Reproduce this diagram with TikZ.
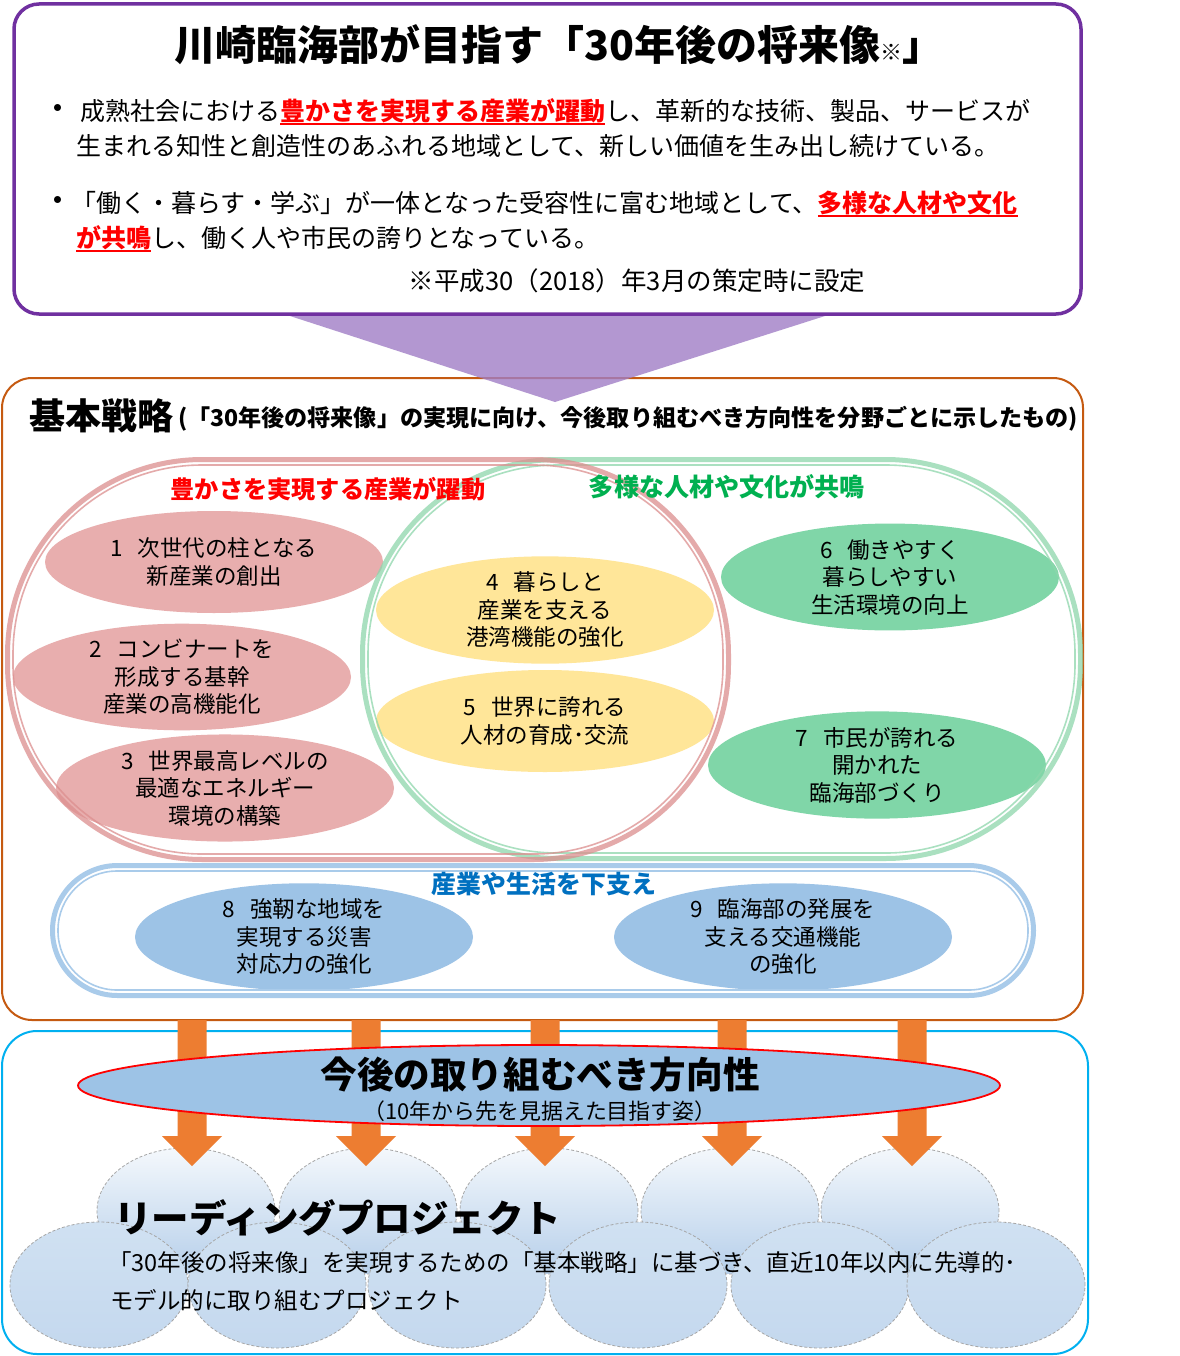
\documentclass[tikz,border=0pt]{standalone}
\usepackage{fontspec}
\setmainfont{Noto Sans CJK JP}
\usetikzlibrary{shapes.geometric}
\definecolor{purp}{HTML}{7030A0}
\definecolor{purpfill}{HTML}{A07EC6}
\definecolor{orgline}{HTML}{C55A11}
\definecolor{myred}{HTML}{FF0000}
\definecolor{ringred}{HTML}{DC8E8E}
\definecolor{ringgreen}{HTML}{8ED6AC}
\definecolor{ringblue}{HTML}{A9CBEA}
\definecolor{pinkfill}{HTML}{E8AEAE}
\definecolor{yellowfill}{HTML}{FFE699}
\definecolor{greenfill}{HTML}{80D6A8}
\definecolor{bluefill}{HTML}{9DC3E6}
\definecolor{mygreen}{HTML}{00B050}
\definecolor{myblue}{HTML}{0070C0}
\definecolor{cyanline}{HTML}{00B0F0}
\definecolor{arrowcol}{HTML}{ED7D31}
\definecolor{cloudtop}{HTML}{F4F8FC}
\definecolor{cloudbot}{HTML}{B6CFEA}
\definecolor{cloudtopb}{HTML}{D0E1F2}
\definecolor{cloudmidb}{HTML}{B3CDE9}
\definecolor{cloudbotb}{HTML}{C4D8EE}
\newcommand\ulred[1]{\setbox0\hbox{\bfseries #1}\textcolor{myred}{\rlap{\rule[-4.5pt]{\wd0}{1.8pt}}\box0}}
\newcommand\nsp{\hspace{0.65em}}
\newcommand\blockarrowdown[1]{\fill[arrowcol] ([shift={(-14.5,0)}]#1) -- ([shift={(14.5,0)}]#1) -- ([shift={(14.5,116)}]#1) -- ([shift={(30,116)}]#1) -- ([shift={(0,146)}]#1) -- ([shift={(-30,116)}]#1) -- ([shift={(-14.5,116)}]#1) -- cycle;}
\tikzset{
  txt/.style={inner sep=0pt, outer sep=0pt},
  ell/.style={ellipse, inner sep=0pt, minimum width=338pt, minimum height=102pt, align=center, font=\fontsize{22.5}{27.5}\selectfont},
  pinkell/.style={ell, fill=pinkfill},
  yellell/.style={ell, fill=yellowfill},
  greenell/.style={ell, fill=greenfill},
  blueell/.style={ell, fill=bluefill},
  cloudA/.style={ellipse, inner sep=0pt, minimum width=178pt, minimum height=126pt, draw=gray!70, line width=0.8pt, dash pattern=on 3pt off 2pt, top color=cloudtop, bottom color=cloudbot},
  cloudB/.style={ellipse, inner sep=0pt, minimum width=178pt, minimum height=126pt, draw=gray!70, line width=0.8pt, dash pattern=on 3pt off 2pt, top color=cloudtopb, middle color=cloudmidb, bottom color=cloudbotb},
  ringthick/.style={line width=5pt, opacity=0.75},
  ringthin/.style={line width=1.6pt, opacity=0.75},
}
\begin{document}
\begin{tikzpicture}[x=1pt,y=-1pt]
\useasboundingbox (0,0) rectangle (1179,1356);
\fill[white] (0,0) rectangle (1179,1356);

% boxes
\draw[orgline, line width=2pt, rounded corners=30pt] (2,378) rectangle (1083,1020);
\draw[cyanline, line width=2pt, rounded corners=35pt] (2,1031) rectangle (1088,1354);
\draw[purp, line width=3.5pt, fill=white, rounded corners=25pt] (14,4) rectangle (1081,314);
\fill[purpfill, opacity=0.8] (290,316) -- (825,316) -- (555,402) -- cycle;

% top texts
\node[txt, font=\bfseries\fontsize{41}{41}\selectfont] (title) at (559,45) {川崎臨海部が目指す「30年後の将来像{\fontsize{22}{22}\selectfont ※}」};
\node[txt, font=\bfseries\fontsize{25}{25}\selectfont] (bul1) at (58,111) {・};
\node[txt, anchor=base west, font=\fontsize{25}{25}\selectfont] (l1) at (80,120.5) {成熟社会における\ulred{豊かさを実現する産業が躍動}し、革新的な技術、製品、サービスが};
\node[txt, anchor=base west, font=\fontsize{25}{25}\selectfont] (l2) at (76,155.5) {生まれる知性と創造性のあふれる地域として、新しい価値を生み出し続けている。};
\node[txt, font=\bfseries\fontsize{25}{25}\selectfont] (bul2) at (58,203) {・};
\node[txt, anchor=base west, font=\fontsize{25}{25}\selectfont] (l3) at (71,212.5) {「働く・暮らす・学ぶ」が一体となった受容性に富む地域として、\ulred{多様な人材や文化}};
\node[txt, anchor=base west, font=\fontsize{25}{25}\selectfont] (l4) at (76,247.5) {\ulred{が共鳴}し、働く人や市民の誇りとなっている。};
\node[txt, font=\fontsize{25.5}{25.5}\selectfont] (note) at (637,281) {※平成30（2018）年3月の策定時に設定};

% strategy header
\node[txt, font=\bfseries\fontsize{36}{36}\selectfont] (kihon) at (101,416) {基本戦略};
\node[txt, anchor=west, font=\bfseries\fontsize{23.1}{23.1}\selectfont] (kihonsub) at (178,419) {(「30年後の将来像」の実現に向け、今後取り組むべき方向性を分野ごとに示したもの)};

% ellipses
\node[pinkell] (e1) at (214,562) {1\nsp 次世代の柱となる\\新産業の創出};
\node[pinkell] (e2) at (182,677) {2\nsp コンビナートを\\形成する基幹\\産業の高機能化};
\node[pinkell] (e3) at (225,788) {3\nsp 世界最高レベルの\\最適なエネルギー\\環境の構築};
\node[yellell] (e4) at (545,610) {4\nsp 暮らしと\\産業を支える\\港湾機能の強化};
\node[yellell] (e5) at (545,721) {5\nsp 世界に誇れる\\人材の育成･交流};
\node[greenell] (e6) at (890,577) {6\nsp 働きやすく\\暮らしやすい\\生活環境の向上};
\node[greenell] (e7) at (877,765) {7\nsp 市民が誇れる\\開かれた\\臨海部づくり};
\node[blueell] (e8) at (304,937) {8\nsp 強靭な地域を\\実現する災害\\対応力の強化};
\node[blueell] (e9) at (783,937) {9\nsp 臨海部の発展を\\支える交通機能\\の強化};

% rings
\draw[ringgreen, ringthick, rounded corners=195pt] (362.5,459.5) rectangle (1080.5,858.5);
\draw[ringgreen, ringthin, rounded corners=189pt] (368,465) rectangle (1075,853);
\draw[ringred, ringthick, rounded corners=195pt] (7.5,459.5) rectangle (728.5,859.5);
\draw[ringred, ringthin, rounded corners=189pt] (13,465) rectangle (723,854);
\draw[ringblue, line width=5pt, rounded corners=65pt] (52.5,865.5) rectangle (1033.5,995.5);
\draw[ringblue, line width=1.6pt, rounded corners=59pt] (58,871) rectangle (1028,990);

% ring titles
\node[txt, text=myred, font=\bfseries\fontsize{24.2}{24.2}\selectfont] (tred) at (328,489) {豊かさを実現する産業が躍動};
\node[txt, text=mygreen, font=\bfseries\fontsize{25.1}{25.1}\selectfont] (tgreen) at (727,487) {多様な人材や文化が共鳴};
\node[txt, text=myblue, font=\bfseries\fontsize{24.9}{24.9}\selectfont] (tblue) at (544,884) {産業や生活を下支え};

% clouds
\node[cloudA] (c1) at (186,1211) {};
\node[cloudA] (c2) at (368,1211) {};
\node[cloudA] (c3) at (549,1211) {};
\node[cloudA] (c4) at (730,1211) {};
\node[cloudA] (c5) at (910,1211) {};
\node[cloudB] (d1) at (99,1285) {};
\node[cloudB] (d2) at (277,1285) {};
\node[cloudB] (d3) at (457,1285) {};
\node[cloudB] (d4) at (638,1285) {};
\node[cloudB] (d5) at (820,1285) {};
\node[cloudB] (d6) at (996,1285) {};

% arrows
\coordinate (a1) at (192,1020);
\coordinate (a2) at (366,1020);
\coordinate (a3) at (545,1020);
\coordinate (a4) at (732,1020);
\coordinate (a5) at (912,1020);
\blockarrowdown{a1}
\blockarrowdown{a2}
\blockarrowdown{a3}
\blockarrowdown{a4}
\blockarrowdown{a5}

% direction ellipse
\node[ellipse, inner sep=0pt, minimum width=922pt, minimum height=81pt, fill=bluefill, draw=myred, line width=1.8pt] (dir) at (539,1085.5) {};
\node[txt, font=\bfseries\fontsize{36.6}{36.6}\selectfont] (dirt) at (540,1075) {今後の取り組むべき方向性};
\node[txt, font=\fontsize{21.9}{21.9}\selectfont] (dirs) at (540,1111) {（10年から先を見据えた目指す姿）};

% leading project
\node[txt, anchor=west, font=\bfseries\fontsize{37.5}{37.5}\selectfont] (lp) at (114,1218) {リーディングプロジェクト};
\node[txt, anchor=west, font=\fontsize{23.5}{23.5}\selectfont] (lp1) at (108,1263) {「30年後の将来像」を実現するための「基本戦略」に基づき、直近10年以内に先導的･};
\node[txt, anchor=west, font=\fontsize{23.5}{23.5}\selectfont] (lp2) at (110,1300) {モデル的に取り組むプロジェクト};
\end{tikzpicture}
\end{document}
